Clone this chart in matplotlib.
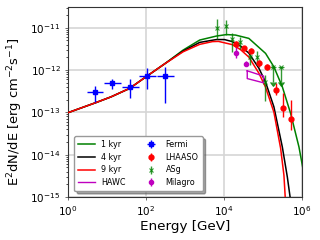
import numpy as np
import matplotlib
matplotlib.use("Agg")
import matplotlib.pyplot as plt
from matplotlib.ticker import LogLocator, NullFormatter

# ---- model curves (E [GeV], E^2 dN/dE [erg cm^-2 s^-1]) ----
green_E = [1, 5.25, 12.7, 37.7, 101, 299, 889, 2373, 6380, 11530, 19640, 43150,
           115900, 189600, 311800, 509300, 832500, 1.035e6]
green_F = [9.84e-14, 1.71e-13, 2.33e-13, 3.68e-13, 7.0e-13, 1.40e-12, 2.96e-12,
           5.12e-12, 6.37e-12, 6.9e-12, 6.72e-12, 5.61e-12, 2.48e-12, 1.19e-12,
           4.02e-13, 9.42e-14, 1.52e-14, 5.1e-15]

black_E = [1, 5.25, 12.7, 37.7, 101, 299, 889, 2373, 6380, 10240, 16150, 26410,
           43150, 78000, 115900, 189600, 311800, 418900, 494400]
black_F = [9.84e-14, 1.71e-13, 2.33e-13, 3.68e-13, 7.0e-13, 1.40e-12, 2.81e-12,
           4.51e-12, 5.26e-12, 5.26e-12, 4.71e-12, 3.69e-12, 2.52e-12, 1.11e-12,
           5.19e-13, 1.35e-13, 1.52e-14, 2.97e-15, 9.8e-16]

red_E = [1, 5.25, 12.7, 37.7, 101, 299, 889, 2373, 5035, 7180, 16150, 26410,
         43150, 78000, 115900, 189600, 281800, 342600, 370000]
red_F = [9.84e-14, 1.71e-13, 2.33e-13, 3.68e-13, 7.0e-13, 1.40e-12, 2.70e-12,
         4.05e-12, 4.71e-12, 4.76e-12, 4.0e-12, 3.05e-12, 2.03e-12, 8.47e-13,
         3.94e-13, 1.01e-13, 1.42e-14, 3.27e-15, 9.8e-16]

# ---- HAWC butterfly ----
hawc_E = [39300, 103000]
hawc_up = [9.6e-13, 7.2e-13]
hawc_lo = [6.3e-13, 5.0e-13]

# ---- Fermi ----
fermi_E = [4.9, 13.8, 39, 105, 299]
fermi_Elo = [3.1, 8.4, 24, 66, 186]
fermi_Ehi = [8.1, 23, 67, 180, 509]
fermi_F = [2.96e-13, 4.83e-13, 4.0e-13, 7.2e-13, 7.3e-13]
fermi_Flo = [1.77e-13, 3.6e-13, 2.2e-13, 3.5e-13, 1.71e-13]
fermi_Fhi = [4.17e-13, 6.1e-13, 6.1e-13, 1.09e-12, 1.19e-12]

# ---- LHAASO ----
lhaaso_E = [20200, 32000, 50000, 78000, 126000, 210000, 323000, 509000]
lhaaso_F = [4.2e-12, 3.3e-12, 2.9e-12, 1.44e-12, 1.2e-12, 3.35e-13, 1.3e-13, 6.9e-14]
lhaaso_Flo = [3.6e-12, 2.9e-12, 2.5e-12, 1.2e-12, 1.0e-12, 2.56e-13, 7.8e-14, 3.9e-14]
lhaaso_Fhi = [4.9e-12, 3.8e-12, 3.4e-12, 1.7e-12, 1.4e-12, 5.0e-13, 2.8e-13, 2.0e-13]

# ---- ASgamma ----
asg_E = [6650, 11300, 16000, 26000, 45700, 71000, 114000]
asg_F = [1.0e-11, 1.11e-11, 5.4e-12, 4.66e-12, 2.06e-12, 1.99e-12, 5.27e-13]
asg_Flo = [5.3e-12, 6.7e-12, 2.7e-12, 3.2e-12, 1.3e-12, 1.3e-12, 1.9e-13]
asg_Fhi = [1.58e-11, 1.52e-11, 7.4e-12, 6.0e-12, 3.1e-12, 2.8e-12, 7.6e-13]
asg_ul_E = [183000, 292000]
asg_ul_F = [1.2e-12, 1.2e-12]
asg_ul_Flo = [5.3e-13, 5.3e-13]

# ---- Milagro ----
milagro_E = [20500, 35500]
milagro_F = [2.6e-12, 1.43e-12]
milagro_Flo = [1.9e-12, 1.25e-12]
milagro_Fhi = [3.5e-12, 1.65e-12]

x_ticks = [1, 1e2, 1e4, 1e6]
y_ticks = [1e-15, 1e-14, 1e-13, 1e-12, 1e-11]

fig = plt.figure(figsize=(3.2, 2.4), dpi=100)
ax = fig.add_axes([0.2125, 0.179, 0.7315, 0.792])
ax.set_xscale("log")
ax.set_yscale("log")

lw = 1.1
ax.plot(green_E, green_F, color="g", lw=lw, label="1 kyr", zorder=3)
ax.plot(black_E, black_F, color="k", lw=lw, label="4 kyr", zorder=3)
ax.plot(red_E, red_F, color="r", lw=lw, label="9 kyr", zorder=3)

hx = [hawc_E[0], hawc_E[1], hawc_E[1], hawc_E[0], hawc_E[0]]
hy = [hawc_up[0], hawc_up[1], hawc_lo[1], hawc_lo[0], hawc_up[0]]
ax.plot(hx, hy, color="m", lw=1.0, label="HAWC", zorder=4)

fE = np.array(fermi_E); fF = np.array(fermi_F)
ax.errorbar(fE, fF,
            xerr=[fE - np.array(fermi_Elo), np.array(fermi_Ehi) - fE],
            yerr=[fF - np.array(fermi_Flo), np.array(fermi_Fhi) - fF],
            fmt="s", color="b", ms=3.5, elinewidth=1.0, capsize=0,
            label="Fermi", zorder=5)

lE = np.array(lhaaso_E); lF = np.array(lhaaso_F)
ax.errorbar(lE, lF,
            yerr=[lF - np.array(lhaaso_Flo), np.array(lhaaso_Fhi) - lF],
            fmt="o", color="r", ms=3.5, elinewidth=1.0, capsize=0,
            label="LHAASO", zorder=5)

aE = np.array(asg_E); aF = np.array(asg_F)
ax.errorbar(aE, aF,
            yerr=[aF - np.array(asg_Flo), np.array(asg_Fhi) - aF],
            fmt="x", color="g", ms=3.0, mew=0.8, elinewidth=1.0, capsize=0,
            label="ASg", zorder=5, alpha=0.8)
uE = np.array(asg_ul_E); uF = np.array(asg_ul_F)
ax.errorbar(uE, uF, yerr=uF - np.array(asg_ul_Flo), uplims=True,
            fmt="x", color="g", ms=3.0, mew=0.8, elinewidth=1.0, capsize=2,
            zorder=5, alpha=0.8)

mE = np.array(milagro_E); mF = np.array(milagro_F)
ax.errorbar(mE, mF,
            yerr=[mF - np.array(milagro_Flo), np.array(milagro_Fhi) - mF],
            fmt="o", color="m", ms=3.0, elinewidth=1.0, capsize=0,
            label="Milagro", zorder=5)

ax.set_xlim(1, 1e6)
ax.set_ylim(1e-15, 3.1e-11)
ax.set_xticks(x_ticks)
ax.set_yticks(y_ticks)
ax.yaxis.set_minor_locator(LogLocator(base=10, subs=np.arange(2, 10), numticks=20))
ax.yaxis.set_minor_formatter(NullFormatter())
ax.xaxis.set_minor_formatter(NullFormatter())
ax.grid(True, which="major", color="#d5d5d5", lw=1.2)
ax.set_axisbelow(True)
for s in ax.spines.values():
    s.set_color("#333333")
    s.set_linewidth(0.8)
ax.tick_params(labelsize=7.5, length=2, width=0.6, color="#555555")
ax.tick_params(which="minor", length=1.2, width=0.5)
ax.tick_params(axis="x", which="minor", length=0)

ax.set_xlabel("Energy [GeV]", fontsize=9.7, labelpad=1)
fig.text(0.047, 0.535, r"E$^2$dN/dE [erg cm$^{-2}$s$^{-1}$]", fontsize=9.4,
         rotation=90, ha="center", va="center")

ax.legend(loc="lower left", ncol=2, fontsize=5.8, fancybox=True, shadow=True,
          framealpha=1, edgecolor="#999999", columnspacing=2.2,
          handlelength=2.0, borderpad=0.5, labelspacing=0.45,
          bbox_to_anchor=(0.01, 0.01))

fig.savefig("out.png", dpi=100)
